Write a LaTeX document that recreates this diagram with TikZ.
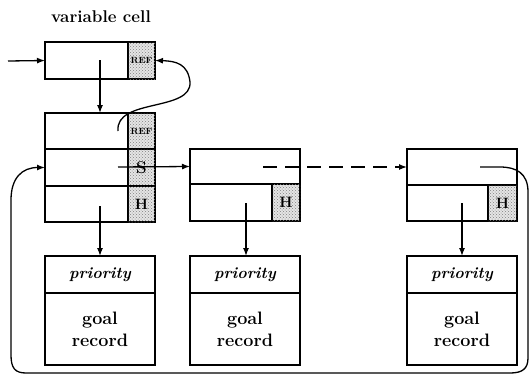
\documentclass[tikz,border=0pt]{standalone}
\usepackage{fontspec}
\usetikzlibrary{patterns,arrows.meta}
\begin{document}
\begin{tikzpicture}[x=1pt,y=-1pt,
  cell/.style={draw, line width=1.5pt, inner sep=0pt, outer sep=0pt, anchor=north west},
  tag/.style={cell, fill=black!10, postaction={pattern=crosshatch dots, pattern color=black!50}},
  arr/.style={line width=1.3pt, -{Latex[length=8pt,width=6pt]}},
  reflab/.style={font=\fontsize{9}{10}\selectfont\bfseries},
  bigtag/.style={font=\fontsize{15}{17}\selectfont\bfseries},
  prio/.style={font=\fontsize{16}{18}\selectfont\bfseries\itshape},
  goal/.style={font=\fontsize{18}{22}\selectfont\bfseries, align=center},
]
\useasboundingbox (0,0) rectangle (532,378);

% variable cell
\node[font=\fontsize{17}{19}\selectfont\bfseries] (title) at (101,17) {variable cell};
\node[cell, minimum width=83pt, minimum height=37pt] (vcL) at (45,42) {};
\node[tag, minimum width=27pt, minimum height=37pt, reflab] (vcR) at (128,42) {REF};

% first record: REF / S / H rows
\node[cell, minimum width=83pt, minimum height=36pt] (b2aL) at (45,113) {};
\node[tag, minimum width=27pt, minimum height=36pt, reflab] (b2aR) at (128,113) {REF};
\node[cell, minimum width=83pt, minimum height=37pt] (b2bL) at (45,149) {};
\node[tag, minimum width=27pt, minimum height=37pt, font=\fontsize{17}{19}\selectfont\bfseries] (b2bR) at (128,149) {S};
\node[cell, minimum width=83pt, minimum height=36pt] (b2cL) at (45,186) {};
\node[tag, minimum width=27pt, minimum height=36pt, bigtag] (b2cR) at (128,186) {H};

% second record
\node[cell, minimum width=110pt, minimum height=35pt] (b3a) at (190,149) {};
\node[cell, minimum width=82pt, minimum height=37pt] (b3bL) at (190,184) {};
\node[tag, minimum width=28pt, minimum height=37pt, bigtag] (b3bR) at (272,184) {H};

% last record
\node[cell, minimum width=110pt, minimum height=36pt] (b4a) at (407,149) {};
\node[cell, minimum width=81pt, minimum height=36pt] (b4bL) at (407,185) {};
\node[tag, minimum width=29pt, minimum height=36pt, bigtag] (b4bR) at (488,185) {H};

% goal records
\foreach \x/\n in {45/1,190/2,407/3} {
  \node[cell, minimum width=110pt, minimum height=37pt, prio] (p\n a) at (\x,256) {priority};
  \node[cell, minimum width=110pt, minimum height=72pt, goal] (p\n b) at (\x,293) {goal\\record};
}

% pointers
\coordinate (in) at (8,61);
\draw[arr] (in) -- (vcL.west);
\coordinate (vcsrc) at (100,60);
\draw[arr] (vcsrc) -- (vcsrc |- b2aL.north);
\coordinate (refsrc) at (118,131);
\draw[arr] (refsrc) .. controls (115,98) and (192,112) .. (190,82)
  .. controls (188,64) and (176,61) .. (vcR.east);
\coordinate (ssrc) at (118,167);
\draw[arr] (ssrc) -- (b3a.west);
\coordinate (dsrc) at (263,167);
\draw[arr, dash pattern=on 14pt off 8pt] (dsrc) -- (b4a.west);
\coordinate (lsrc) at (480,167);
\draw[arr] (lsrc) -- (500,167) .. controls (516,167) and (528,173) .. (528,192)
  -- (528,358) .. controls (528,369) and (522,373) .. (510,373)
  -- (26,373) .. controls (15,373) and (11,368) .. (11,355)
  -- (11,200) .. controls (11,178) and (22,167.5) .. (b2bL.west);

% down to goal records
\coordinate (h1) at (100,206);
\coordinate (h2) at (246,203);
\coordinate (h3) at (462,203);
\draw[arr] (h1) -- (h1 |- p1a.north);
\draw[arr] (h2) -- (h2 |- p2a.north);
\draw[arr] (h3) -- (h3 |- p3a.north);
\end{tikzpicture}
\end{document}
